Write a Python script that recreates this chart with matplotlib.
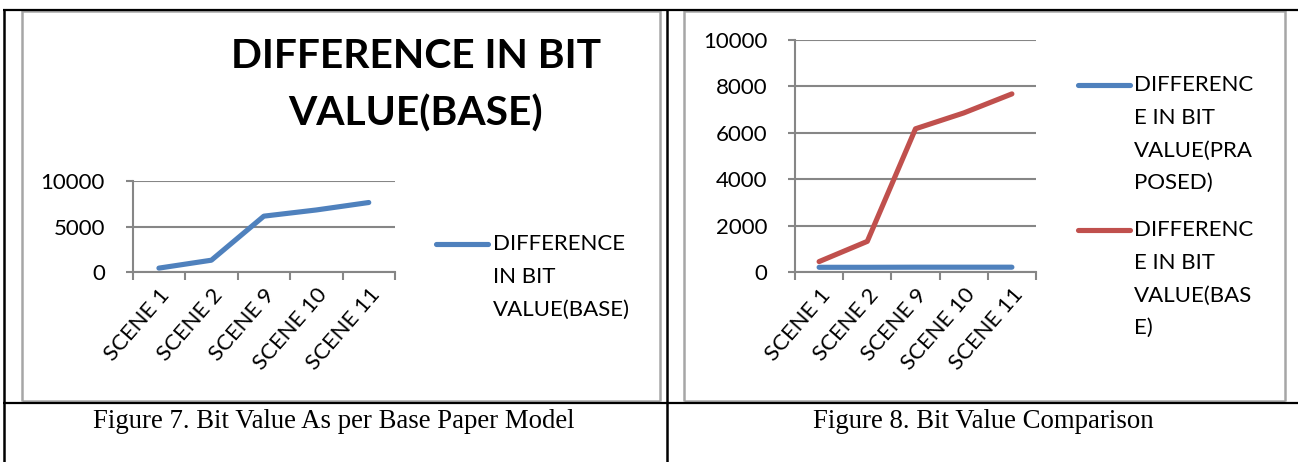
import matplotlib
matplotlib.use("Agg")
import matplotlib.pyplot as plt
from matplotlib.lines import Line2D

categories = ["SCENE 1", "SCENE 2", "SCENE 9", "SCENE 10", "SCENE 11"]
base_values = [460, 1330, 6170, 6850, 7670]
proposed_values = [215, 215, 220, 220, 220]
yticks_fig7 = [0, 5000, 10000]
yticks_fig8 = [0, 2000, 4000, 6000, 8000, 10000]

W, H = 1298, 462
DPI = 100
BLUE = "#4F81BD"
RED = "#C0504D"
GRID = "#868686"
FRAME = "#A6A6A6"
SANS = ["Lato", "DejaVu Sans"]
SERIF = ["Liberation Serif", "DejaVu Serif"]
FS = 16

plt.rcParams['font.family'] = SANS

fig = plt.figure(figsize=(W / DPI, H / DPI), dpi=DPI)
fig.patch.set_facecolor("white")


def fx(x):
    return x / W


def fy(y):
    return 1 - y / H


def hline(x0, x1, y, color, lw):
    fig.add_artist(Line2D([fx(x0), fx(x1)], [fy(y), fy(y)], transform=fig.transFigure,
                          color=color, lw=lw, solid_capstyle="butt"))


def vline(x, y0, y1, color, lw):
    fig.add_artist(Line2D([fx(x), fx(x)], [fy(y0), fy(y1)], transform=fig.transFigure,
                          color=color, lw=lw, solid_capstyle="butt"))


# chart frames (gray)
for (l, r) in [(22, 660), (684, 1284.5)]:
    hline(l, r, 10.5, FRAME, 1.8)
    hline(l, r, 401, FRAME, 1.8)
    vline(l, 10, 401, FRAME, 1.8)
    vline(r, 10, 401, FRAME, 1.8)

# table lines (black)
hline(2.5, W, 10, "black", 1.6)
hline(2.5, W, 403, "black", 1.6)
vline(3.5, 9.5, H, "black", 1.8)
vline(667, 9.5, H, "black", 1.8)


def make_axes(left, right, top, bottom, yticks):
    ax = fig.add_axes([fx(left), fy(bottom), fx(right - left), (bottom - top) / H])
    ax.set_facecolor("none")
    ax.set_xlim(-0.5, len(categories) - 0.5)
    ax.set_ylim(0, 10000)
    for s in ["top", "right"]:
        ax.spines[s].set_visible(False)
    for s in ["left", "bottom"]:
        ax.spines[s].set_color(GRID)
        ax.spines[s].set_linewidth(1.5)
    ax.set_yticks(yticks)
    ax.set_yticklabels([str(v) for v in yticks], fontsize=FS, color="black")
    ax.yaxis.grid(True, color=GRID, lw=1.5)
    ax.set_axisbelow(True)
    ax.tick_params(axis="y", length=5, width=1.5, color=GRID, pad=15)
    # category boundary ticks
    ax.set_xticks([i - 0.5 for i in range(len(categories) + 1)])
    ax.set_xticklabels([])
    ax.tick_params(axis="x", length=6, width=1.5, color=GRID)
    ax.set_xticks(range(len(categories)), minor=True)
    ax.set_xticklabels(categories, minor=True, rotation=49, ha="right", va="top",
                       rotation_mode="anchor", fontsize=FS)
    ax.tick_params(axis="x", which="minor", length=0, pad=9)
    return ax


x = list(range(len(categories)))

# Figure 7
ax1 = make_axes(132.7, 395, 181.3, 272.3, yticks_fig7)
ax1.plot(x, base_values, color=BLUE, lw=3.7, solid_capstyle="round", solid_joinstyle="round",
         clip_on=False)

fig.text(fx(416), fy(57), "DIFFERENCE IN BIT", ha="center", va="center", fontsize=29.3,
         fontweight="bold")
fig.text(fx(416), fy(114), "VALUE(BASE)", ha="center", va="center", fontsize=29.3,
         fontweight="bold")

# legend fig 7
fig.add_artist(Line2D([fx(436), fx(488)], [fy(244), fy(244)], transform=fig.transFigure,
                      color=BLUE, lw=3.7, solid_capstyle="round"))
for i, t in enumerate(["DIFFERENCE", "IN BIT", "VALUE(BASE)"]):
    fig.text(fx(493), fy(244 + 33 * i), t, ha="left", va="center", fontsize=FS)

# Figure 8
ax2 = make_axes(795, 1036, 39.7, 272.3, yticks_fig8)
ax2.plot(x, proposed_values, color=BLUE, lw=3.7, solid_capstyle="round",
         solid_joinstyle="round", clip_on=False)
ax2.plot(x, base_values, color=RED, lw=3.7, solid_capstyle="round",
         solid_joinstyle="round", clip_on=False)

legend_entries = [
    (BLUE, 85, ["DIFFERENC", "E IN BIT", "VALUE(PRA", "POSED)"]),
    (RED, 230, ["DIFFERENC", "E IN BIT", "VALUE(BAS", "E)"]),
]
for color, y0, lines in legend_entries:
    fig.add_artist(Line2D([fx(1078), fx(1130)], [fy(y0), fy(y0)], transform=fig.transFigure,
                          color=color, lw=3.7, solid_capstyle="round"))
    for i, t in enumerate(lines):
        fig.text(fx(1134), fy(y0 + 32.7 * i), t, ha="left", va="center", fontsize=FS)

# captions
fig.text(fx(334), fy(421), "Figure 7. Bit Value As per Base Paper Model", ha="center",
         va="center", fontsize=19.3, family=SERIF)
fig.text(fx(983), fy(421), "Figure 8. Bit Value Comparison", ha="center", va="center",
         fontsize=19.3, family=SERIF)

fig.savefig("out.png", dpi=DPI, facecolor="white")
